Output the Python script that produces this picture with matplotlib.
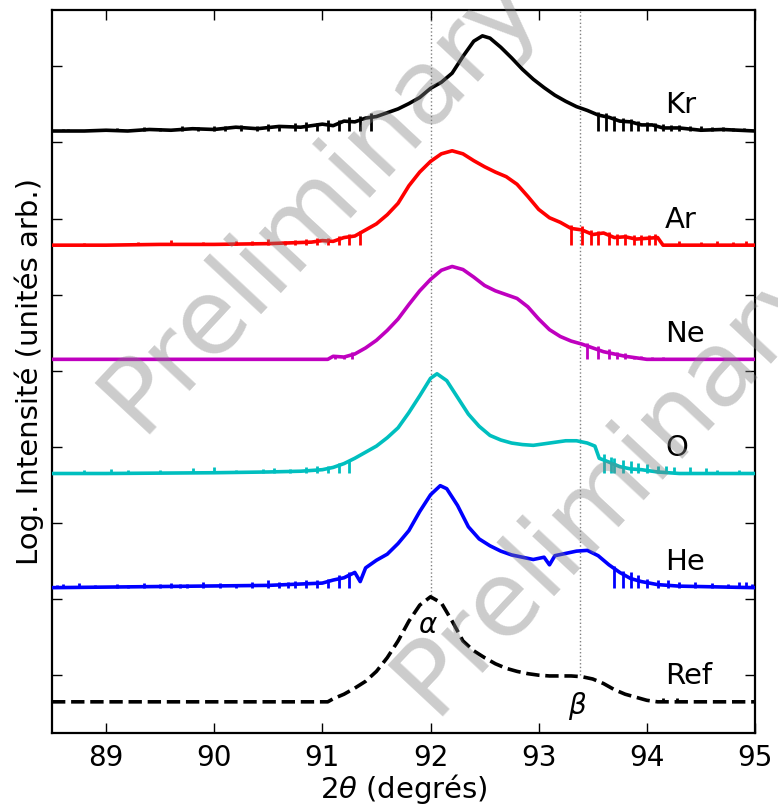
import matplotlib
matplotlib.use('Agg')
import matplotlib.pyplot as plt

# profiles: 2theta (deg) and log intensity above each curve's baseline
kr_x = [88.5, 88.8, 89.0, 89.2, 89.4, 89.6, 89.8, 90.0, 90.2, 90.4, 90.6, 90.8, 91.0, 91.1, 91.2, 91.3,
        91.4, 91.5, 91.6, 91.7, 91.8, 91.9, 92.0, 92.1, 92.2, 92.3, 92.4, 92.48, 92.55, 92.65, 92.75,
        92.85, 92.95, 93.05, 93.15, 93.25, 93.35, 93.45, 93.55, 93.65, 93.75, 93.85, 93.95, 94.05,
        94.15, 94.3, 94.5, 94.7, 95.0]
kr_y = [0.0, 0.0, 0.01, 0.0, 0.02, 0.01, 0.03, 0.02, 0.05, 0.03, 0.06, 0.05, 0.09, 0.07, 0.13, 0.12,
        0.17, 0.19, 0.24, 0.29, 0.36, 0.44, 0.56, 0.64, 0.76, 0.98, 1.18, 1.25, 1.22, 1.10, 0.96,
        0.81, 0.68, 0.57, 0.47, 0.39, 0.32, 0.27, 0.21, 0.18, 0.13, 0.12, 0.08, 0.08,
        0.04, 0.04, 0.01, 0.02, 0.0]
kr_sx = [88.6, 88.65, 89.1, 89.35, 89.5, 89.7, 89.85, 90.0, 90.1, 90.25, 90.4, 90.5, 90.6, 90.75,
         90.85, 90.95, 91.05, 91.15, 91.25, 91.35, 91.45, 93.55, 93.62, 93.7, 93.78, 93.85, 93.92,
         94.0, 94.08, 94.15, 94.22, 94.3, 94.4, 94.5, 94.6, 94.7, 94.8, 94.9]
kr_sh = [0.03, 0.03, 0.04, 0.05, 0.04, 0.06, 0.05, 0.07, 0.06, 0.08, 0.07, 0.09, 0.08, 0.11,
         0.12, 0.11, 0.14, 0.15, 0.19, 0.2, 0.23, 0.25, 0.23, 0.2, 0.17, 0.16, 0.13,
         0.12, 0.1, 0.09, 0.08, 0.08, 0.07, 0.06, 0.05, 0.05, 0.04, 0.04]

ar_x = [88.5, 89.0, 89.5, 90.0, 90.5, 90.7, 90.9, 91.0, 91.1, 91.2, 91.3, 91.4, 91.5, 91.6, 91.7,
        91.8, 91.9, 92.0, 92.1, 92.2, 92.3, 92.4, 92.5, 92.6, 92.7, 92.8, 92.9, 93.0, 93.1, 93.2,
        93.3, 93.4, 93.5, 93.6, 93.7, 93.8, 93.9, 94.0, 94.1, 94.15, 95.0]
ar_y = [0.0, 0.0, 0.01, 0.01, 0.02, 0.03, 0.04, 0.06, 0.05, 0.1, 0.12, 0.2, 0.28, 0.4, 0.55,
        0.78, 0.96, 1.1, 1.2, 1.24, 1.2, 1.11, 1.03, 0.96, 0.9, 0.8, 0.64, 0.47, 0.36, 0.3,
        0.22, 0.2, 0.14, 0.16, 0.1, 0.11, 0.08, 0.09, 0.1, 0.0, 0.0]
ar_sx = [88.8, 89.3, 89.6, 89.9, 90.2, 90.35, 90.5, 90.65, 90.75, 90.85, 90.95, 91.05, 91.15,
         91.25, 91.35, 93.3, 93.4, 93.48, 93.55, 93.65, 93.72, 93.8, 93.88, 93.95, 94.02, 94.08,
         94.3, 94.5, 94.65, 94.8, 94.92]
ar_sh = [0.03, 0.04, 0.07, 0.04, 0.05, 0.05, 0.08, 0.06, 0.07, 0.08, 0.09, 0.1, 0.12,
         0.15, 0.18, 0.27, 0.25, 0.2, 0.19, 0.17, 0.15, 0.15, 0.13, 0.13, 0.13, 0.15,
         0.05, 0.04, 0.05, 0.04, 0.05]

ne_x = [88.5, 91.05, 91.1, 91.2, 91.3, 91.4, 91.5, 91.6, 91.7, 91.8, 91.9, 92.0, 92.1, 92.2, 92.3,
        92.4, 92.5, 92.6, 92.7, 92.8, 92.9, 93.0, 93.1, 93.2, 93.3, 93.4, 93.5, 93.6, 93.7, 93.8,
        93.9, 94.0, 95.0]
ne_y = [0.0, 0.0, 0.04, 0.03, 0.07, 0.15, 0.25, 0.38, 0.53, 0.72, 0.9, 1.05, 1.17, 1.22, 1.18,
        1.08, 0.97, 0.9, 0.85, 0.8, 0.69, 0.53, 0.39, 0.3, 0.24, 0.2, 0.15, 0.1, 0.07, 0.04,
        0.02, 0.0, 0.0]
ne_sx = [91.12, 91.2, 91.27, 93.45, 93.55, 93.65, 93.72, 93.8, 93.88, 93.95, 94.05, 94.15]
ne_sh = [0.06, 0.05, 0.09, 0.22, 0.17, 0.13, 0.1, 0.08, 0.05, 0.04, 0.03, 0.03]

o_x = [88.5, 89.0, 90.0, 90.5, 90.8, 91.0, 91.1, 91.2, 91.3, 91.4, 91.5, 91.6, 91.7, 91.8, 91.9,
       92.0, 92.06, 92.15, 92.25, 92.35, 92.45, 92.55, 92.65, 92.75, 92.85, 92.95, 93.05, 93.15,
       93.25, 93.35, 93.45, 93.52, 93.56, 93.65, 93.75, 93.85, 93.95, 94.1, 94.3, 95.0]
o_y = [0.0, 0.0, 0.01, 0.02, 0.03, 0.05, 0.08, 0.13, 0.2, 0.28, 0.36, 0.47, 0.6, 0.8, 1.02,
       1.25, 1.31, 1.22, 1.0, 0.78, 0.62, 0.5, 0.44, 0.4, 0.38, 0.37, 0.39, 0.41,
       0.43, 0.43, 0.4, 0.36, 0.2, 0.15, 0.09, 0.06, 0.05, 0.02, 0.0, 0.0]
o_sx = [88.8, 89.05, 89.2, 89.5, 89.8, 90.0, 90.2, 90.45, 90.55, 90.7, 90.85, 90.95, 91.05,
        91.15, 91.25, 93.6, 93.67, 93.7, 93.78, 93.85, 93.92, 94.0, 94.1, 94.18, 94.25, 94.4,
        94.55, 94.65, 94.85]
o_sh = [0.05, 0.06, 0.04, 0.05, 0.07, 0.08, 0.05, 0.06, 0.07, 0.06, 0.08, 0.1, 0.1,
        0.14, 0.18, 0.25, 0.22, 0.2, 0.18, 0.16, 0.14, 0.12, 0.1, 0.1, 0.09, 0.08,
        0.07, 0.05, 0.05]

he_x = [88.5, 90.5, 91.0, 91.1, 91.2, 91.3, 91.35, 91.4, 91.5, 91.6, 91.7, 91.8, 91.9, 92.0,
        92.09, 92.15, 92.25, 92.35, 92.45, 92.55, 92.65, 92.75, 92.85, 92.95, 93.05, 93.1,
        93.15, 93.25, 93.35, 93.45, 93.55, 93.65, 93.75, 93.85, 93.95, 94.1, 94.3, 95.0]
he_y = [0.0, 0.03, 0.06, 0.1, 0.13, 0.2, 0.08, 0.26, 0.36, 0.44, 0.58, 0.75, 1.0, 1.22,
        1.34, 1.3, 1.08, 0.8, 0.64, 0.55, 0.48, 0.43, 0.4, 0.37, 0.4, 0.3,
        0.42, 0.45, 0.48, 0.49, 0.42, 0.3, 0.2, 0.12, 0.08, 0.04, 0.02, 0.0]
he_sx = [88.55, 88.6, 88.75, 88.9, 89.1, 89.2, 89.35, 89.5, 89.6, 89.68, 89.75, 89.9, 90.05,
         90.2, 90.35, 90.5, 90.6, 90.68, 90.75, 90.85, 90.95, 91.05, 91.15, 91.25, 93.7, 93.78,
         93.85, 93.92, 94.0, 94.1, 94.2, 94.3, 94.45, 94.6, 94.75, 94.85, 94.92, 94.97]
he_sh = [0.04, 0.05, 0.06, 0.04, 0.05, 0.04, 0.06, 0.05, 0.06, 0.05, 0.05, 0.07, 0.06,
         0.05, 0.07, 0.1, 0.08, 0.07, 0.09, 0.1, 0.1, 0.12, 0.16, 0.2, 0.28, 0.22,
         0.2, 0.16, 0.12, 0.1, 0.1, 0.08, 0.07, 0.06, 0.05, 0.07, 0.07, 0.05]

ref_x = [88.5, 91.05, 91.1, 91.2, 91.3, 91.4, 91.5, 91.6, 91.7, 91.8, 91.9, 92.0, 92.1, 92.2,
         92.3, 92.4, 92.5, 92.6, 92.7, 92.8, 92.9, 93.0, 93.1, 93.2, 93.3, 93.4, 93.5, 93.6,
         93.7, 93.8, 93.9, 94.0, 94.1, 95.0]
ref_y = [0.0, 0.0, 0.04, 0.1, 0.18, 0.27, 0.4, 0.58, 0.8, 1.06, 1.27, 1.38, 1.3, 1.06,
         0.8, 0.67, 0.58, 0.5, 0.44, 0.4, 0.37, 0.35, 0.34, 0.34, 0.34, 0.33, 0.3, 0.24,
         0.16, 0.1, 0.06, 0.02, 0.0, 0.0]
ref_sx = [94.15, 94.28]
ref_sh = [0.05, 0.05]

names = ['Kr', 'Ar', 'Ne', 'O', 'He', 'Ref']
offsets = [7.15, 5.65, 4.15, 2.65, 1.15, -0.35]
colors = ['k', 'r', 'm', 'c', 'b', 'k']
styles = ['-', '-', '-', '-', '-', '--']
xs = [kr_x, ar_x, ne_x, o_x, he_x, ref_x]
ys = [kr_y, ar_y, ne_y, o_y, he_y, ref_y]
spike_x = [kr_sx, ar_sx, ne_sx, o_sx, he_sx, ref_sx]
spike_h = [kr_sh, ar_sh, ne_sh, o_sh, he_sh, ref_sh]

# peak markers: position and the Ref level where the guide line stops
peak_pos = [92.0, 93.38]
peak_floor = [1.0, 0.0]
peak_names = [r'$\alpha$', r'$\beta$']
peak_text_y = [0.66, -0.4]

fig = plt.figure(figsize=(7.78, 8.05), dpi=100)
ax = fig.add_axes([0.0668, 0.0894, 0.9036, 0.8982])

for vx, vf in zip(peak_pos, peak_floor):
    ax.vlines(vx, vf, 8.74, color='gray', linestyle=':', lw=1, zorder=1)

for i in range(len(names)):
    off = offsets[i]
    ax.plot(xs[i], [v + off for v in ys[i]], color=colors[i], ls=styles[i], lw=2.6, zorder=3)
    if spike_x[i]:
        ax.vlines(spike_x[i], off, [h + off for h in spike_h[i]], color=colors[i], lw=2.0, zorder=3)
    ax.text(94.17, off + 0.23, names[i], fontsize=21, va='baseline', ha='left')

for px, pn, py in zip(peak_pos, peak_names, peak_text_y):
    ax.text(px - 0.02, py, pn, fontsize=20, ha='center', va='center')

ax.set_xlim(88.5, 95)
ax.set_ylim(-0.76, 8.74)
ax.set_xticks([89, 90, 91, 92, 93, 94, 95])
ax.set_yticks(range(9))
ax.set_yticklabels([])
ax.tick_params(direction='in', length=7, width=1, top=True, right=True, labelsize=20, pad=8)
for s in ax.spines.values():
    s.set_linewidth(1.6)
ax.set_xlabel(r'$2\theta$ (degrés)', fontsize=21, labelpad=0)
ax.set_ylabel('Log. Intensité (unités arb.)', fontsize=21)
ax.yaxis.set_label_coords(-0.012, 0.5)

fig.text(0.411, 0.752, 'Preliminary', fontsize=75, color='gray', alpha=0.4,
         rotation=47, ha='center', va='center')
fig.text(0.787, 0.402, 'Preliminary', fontsize=75, color='gray', alpha=0.4,
         rotation=47, ha='center', va='center')

fig.savefig('out.png', dpi=100)
